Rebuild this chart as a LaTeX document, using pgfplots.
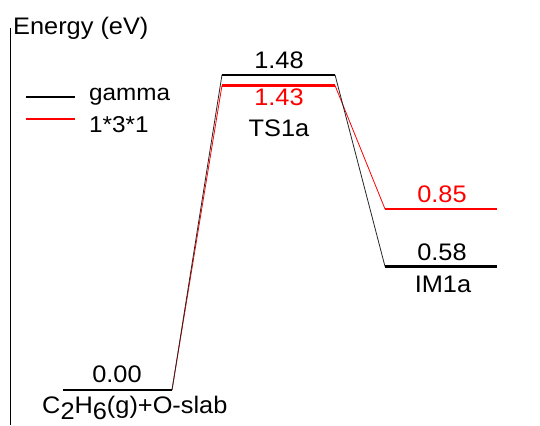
\documentclass[border=0pt]{standalone}
\usepackage{fontspec}
\setmainfont{Liberation Sans}[FakeStretch=1.06]
\usepackage{pgfplots}
\pgfplotsset{compat=1.18}
\begin{document}
\fontsize{24}{28}\selectfont
\begin{tikzpicture}
\begin{axis}[
  x=1bp, y=213bp,
  xmin=0, xmax=540, ymin=-0.1643, ymax=1.831,
  hide axis, clip=false,
  legend style={at={(axis cs:25,1.425)}, anchor=north west, draw=none, fill=none,
    font=\fontsize{23}{27}\selectfont, row sep=8bp, inner sep=0pt},
  legend cell align=left,
  legend image code/.code={\draw[#1] (0bp,0bp) -- (49bp,0bp); \path (60bp,0bp);},
]
\path (axis cs:0,-0.1643) rectangle (axis cs:540,1.831);
% y axis line
\addplot[black, line width=1bp, forget plot] coordinates {(10,-0.1643) (10,1.6995)};
% connectors
\addplot[red, line width=0.8bp, forget plot] coordinates {(172,0) (222,1.43)};
\addplot[red, line width=0.8bp, forget plot] coordinates {(335,1.43) (385,0.85)};
\addplot[black!85, line width=0.8bp, forget plot] coordinates {(172,0) (222,1.48)};
\addplot[black!85, line width=0.8bp, forget plot] coordinates {(335,1.48) (385,0.58)};
% levels
\addplot[red, line width=2.2bp, forget plot] coordinates {(222,1.43) (335,1.43)};
\addplot[red, line width=2.2bp, forget plot] coordinates {(385,0.85) (497,0.85)};
\addplot[black, line width=2.2bp, forget plot] coordinates {(63,0) (172,0)};
\addplot[black, line width=2.2bp, forget plot] coordinates {(222,1.48) (335,1.48)};
\addplot[black, line width=2.2bp, forget plot] coordinates {(385,0.58) (497,0.58)};
% legend
\addlegendimage{black, line width=2bp}
\addlegendentry{gamma}
\addlegendimage{red, line width=2bp, yshift=7bp}
\addlegendentry{1*3*1}
% labels
\node[anchor=base west, inner sep=0pt] at (axis cs:13,1.667) {Energy (eV)};
\node[anchor=base, inner sep=0pt] at (axis cs:117,0.0376) {0.00};
\node[anchor=base west, inner sep=0pt] at (axis cs:42,-0.108) {C\raisebox{-6bp}{2}H\raisebox{-6bp}{6}(g)+O-slab};
\node[anchor=base, inner sep=0pt] at (axis cs:279,1.5103) {1.48};
\node[anchor=base, inner sep=0pt, text=red] at (axis cs:279,1.338) {1.43};
\node[anchor=base, inner sep=0pt] at (axis cs:279,1.1925) {TS1a};
\node[anchor=base, inner sep=0pt, text=red] at (axis cs:442,0.878) {0.85};
\node[anchor=base, inner sep=0pt] at (axis cs:442,0.610) {0.58};
\node[anchor=base, inner sep=0pt] at (axis cs:443,0.460) {IM1a};
\end{axis}
\end{tikzpicture}
\end{document}
